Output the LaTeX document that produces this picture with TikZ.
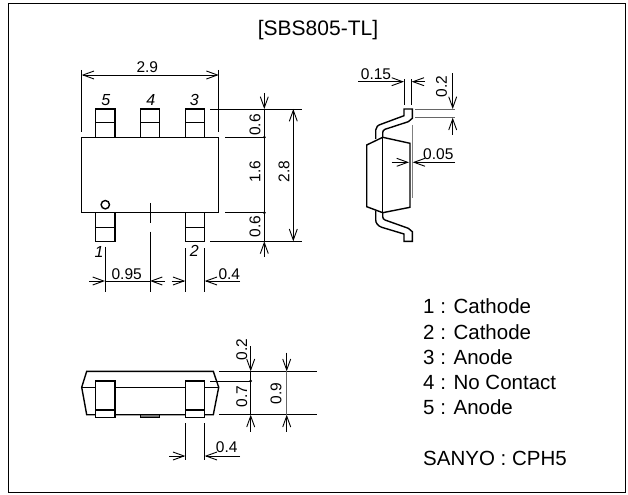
\documentclass[tikz,border=0pt]{standalone}
\usepackage{fontspec}
\setmainfont{Liberation Sans}
\usetikzlibrary{arrows.meta}
\tikzset{
  x=1bp,y=-1bp,
  part/.style={line width=1.4bp,line join=miter},
  thin line/.style={line width=0.9bp},
  dim/.style={line width=0.9bp,-{Straight Barb[length=11bp,width=8bp,line width=0.9bp]}},
  dimboth/.style={line width=0.9bp,{Straight Barb[length=11bp,width=8bp,line width=0.9bp]}-{Straight Barb[length=11bp,width=8bp,line width=0.9bp]}},
  lab/.style={font=\fontsize{15.5bp}{18bp}\selectfont,inner sep=0pt},
  pin/.style={font=\fontsize{16bp}{18bp}\selectfont\itshape,inner sep=0pt},
  legend/.style={font=\fontsize{20.5bp}{22bp}\selectfont,inner sep=0pt,anchor=base west},
  dot/.style={circle,fill=black,inner sep=0pt,minimum size=3bp},
}
\begin{document}
\begin{tikzpicture}
\useasboundingbox (0,0) rectangle (628,495);
\fill[white] (0,0) rectangle (628,495);
\draw[line width=1.5bp] (8.5,3.5) rectangle (625.5,492.5);
\node[lab,font=\fontsize{21bp}{24bp}\selectfont] (title) at (318,30) {[SBS805-TL]};
% top view
\draw[part] (81.7,137.3) rectangle (218.7,212.7);
\foreach \x in {95.7,140.3,185.3}{
  \draw[part] (\x,137.3) -- (\x,109) -- ++(19.3,0) -- ++(0,28.3);
  \draw[part] (\x,122.3) -- ++(19.3,0);
}
\foreach \x in {95.7,185.3}{
  \draw[part] (\x,212.7) -- (\x,241.3) -- ++(19.3,0) -- ++(0,-28.6);
  \draw[part] (\x,227.7) -- ++(19.3,0);
}
\draw[part] (105.3,204.7) circle (4.2);
\node[pin] (p5) at (105.7,100) {5};
\node[pin] (p4) at (150.7,100) {4};
\node[pin] (p3) at (194.3,100) {3};
\node[pin] (p1) at (99,251.7) {1};
\node[pin] (p2) at (194.3,251) {2};
% 2.9
\draw[thin line] (81.7,70) -- (81.7,131.7) (218.7,70) -- (218.7,131.7);
\draw[dimboth] (81.7,75) -- (218.7,75);
\node[lab] (d29) at (147.3,66.7) {2.9};
% right dims
\draw[thin line] (210,109) -- (301.7,109) (225,137.3) -- (264.3,137.3) (225,212.7) -- (264.3,212.7) (210,241.3) -- (301.7,241.3);
\draw[dim] (264.3,93) -- (264.3,109);
\draw[thin line] (264.3,109) -- (264.3,241.3);
\draw[dim] (264.3,257) -- (264.3,241.3);
\node[dot] (da) at (264.3,137.3) {};
\node[dot] (db) at (264.3,212.7) {};
\draw[dimboth] (293.3,109) -- (293.3,241.3);
\node[lab,rotate=90] (d06a) at (255,125) {0.6};
\node[lab,rotate=90] (d16) at (255,171.7) {1.6};
\node[lab,rotate=90] (d06b) at (255,226.7) {0.6};
\node[lab,rotate=90] (d28) at (284,171.7) {2.8};
% bottom dims
\draw[thin line] (105,246.7) -- (105,291.7) (150,203) -- (150,222.7) (150,231.7) -- (150,291.7) (185.3,248) -- (185.3,291.7) (204.7,248) -- (204.7,291.7);
\draw[dim] (89.3,281) -- (105,281);
\draw[thin line] (105,281) -- (150,281);
\draw[dim] (165,281) -- (150,281);
\draw[dim] (171.7,281) -- (185.3,281);
\draw[dim] (240,281) -- (204.7,281);
\node[lab] (d095) at (126.7,274.3) {0.95};
\node[lab] (d04a) at (229.3,274.3) {0.4};
% side view
\draw[part] (366.7,145) -- (382.7,137.3) -- (410,143.3) -- (410,207.3) -- (382.7,212.7) -- (366.7,206.7) -- cycle;
\draw[part] (382.7,137.3) -- (382.7,212.7);
\draw[part] (375.7,139) -- (375.7,130) .. controls (375.7,127) and (378,125) .. (381.7,124) -- (404,115.7) -- (404,109) -- (412.3,109) -- (412.3,118.3) -- (408.3,121.7) -- (385,129.3) .. controls (383.5,130) and (382.7,131) .. (382.7,132.7) -- (382.7,137.3);
\draw[part] (375.7,210.7) -- (375.7,220) .. controls (375.7,223) and (378,226) .. (381.7,227.3) -- (404,234) -- (404,241.3) -- (412.3,241.3) -- (412.3,231.7) -- (408.3,228.3) -- (385,220) .. controls (383.5,219.5) and (382.7,218) .. (382.7,216.7) -- (382.7,212.7);
\draw[line width=1bp,black!50] (412.5,125) -- (412.5,198.3);
\draw[thin line] (404,79.3) -- (404,105) (411.7,79.3) -- (411.7,105);
\draw[dim] (358.3,81.7) -- (404,81.7);
\draw[dim] (425,81.7) -- (411.7,81.7);
\node[lab] (d015) at (376,74) {0.15};
\draw[thin line,black!60] (415,109) -- (455,109) (415,117.7) -- (455,117.7);
\draw[dim] (452.7,73.3) -- (452.7,109);
\draw[dim] (452.7,135) -- (452.7,117.7);
\node[lab,rotate=90] (d02a) at (441.5,86.7) {0.2};
\draw[dim] (391.7,162.3) -- (409,162.3);
\draw[dim] (455,162.3) -- (412.7,162.3);
\node[lab] (d005) at (438.3,154) {0.05};
% front view
\draw[part] (81.7,387.3) -- (86.7,371.3) -- (213.3,371.3) -- (218.7,387.3) -- (213.3,414.7) -- (86.7,414.7) -- cycle;
\draw[part] (81.7,387.3) -- (218.7,387.3);
\foreach \x in {95.7,185.3}{
  \draw[part,fill=white] (\x,381) rectangle ++(19.3,36.3);
  \draw[part] (\x,410) -- ++(19.3,0);
}
\draw[line width=1bp,fill=black!55] (140.3,414.7) rectangle (159.7,417.3);
\draw[thin line] (219.3,371.3) -- (316.7,371.3) (219.3,414.7) -- (316.7,414.7) (210,381) -- (250.7,381);
\draw[dim] (250.7,346) -- (250.7,371.3);
\draw[thin line] (250.7,371.3) -- (250.7,414.7);
\draw[dim] (250.7,431.7) -- (250.7,414.7);
\node[dot] (dc) at (250.7,381) {};
\draw[dim] (286.7,352.7) -- (286.7,371.3);
\draw[thin line,black!60] (286.7,371.3) -- (286.7,414.7);
\draw[dim] (286.7,431.7) -- (286.7,414.7);
\node[lab,rotate=90] (d02b) at (241.7,349.3) {0.2};
\node[lab,rotate=90] (d07) at (241.7,396.7) {0.7};
\node[lab,rotate=90] (d09) at (276,393.3) {0.9};
\draw[thin line] (185.3,423.3) -- (185.3,460) (204.7,423.3) -- (204.7,460);
\draw[dim] (169.3,456) -- (185.3,456);
\draw[dim] (240,456) -- (204.7,456);
\node[lab] (d04b) at (226.7,447.3) {0.4};
% legend
\node[legend] (l1) at (423,313.3) {1 : Cathode};
\node[legend] (l2) at (423,339) {2 : Cathode};
\node[legend] (l3) at (423,364) {3 : Anode};
\node[legend] (l4) at (423,389) {4 : No Contact};
\node[legend] (l5) at (423,414) {5 : Anode};
\node[legend] (l6) at (423,465) {SANYO : CPH5};
\end{tikzpicture}
\end{document}
